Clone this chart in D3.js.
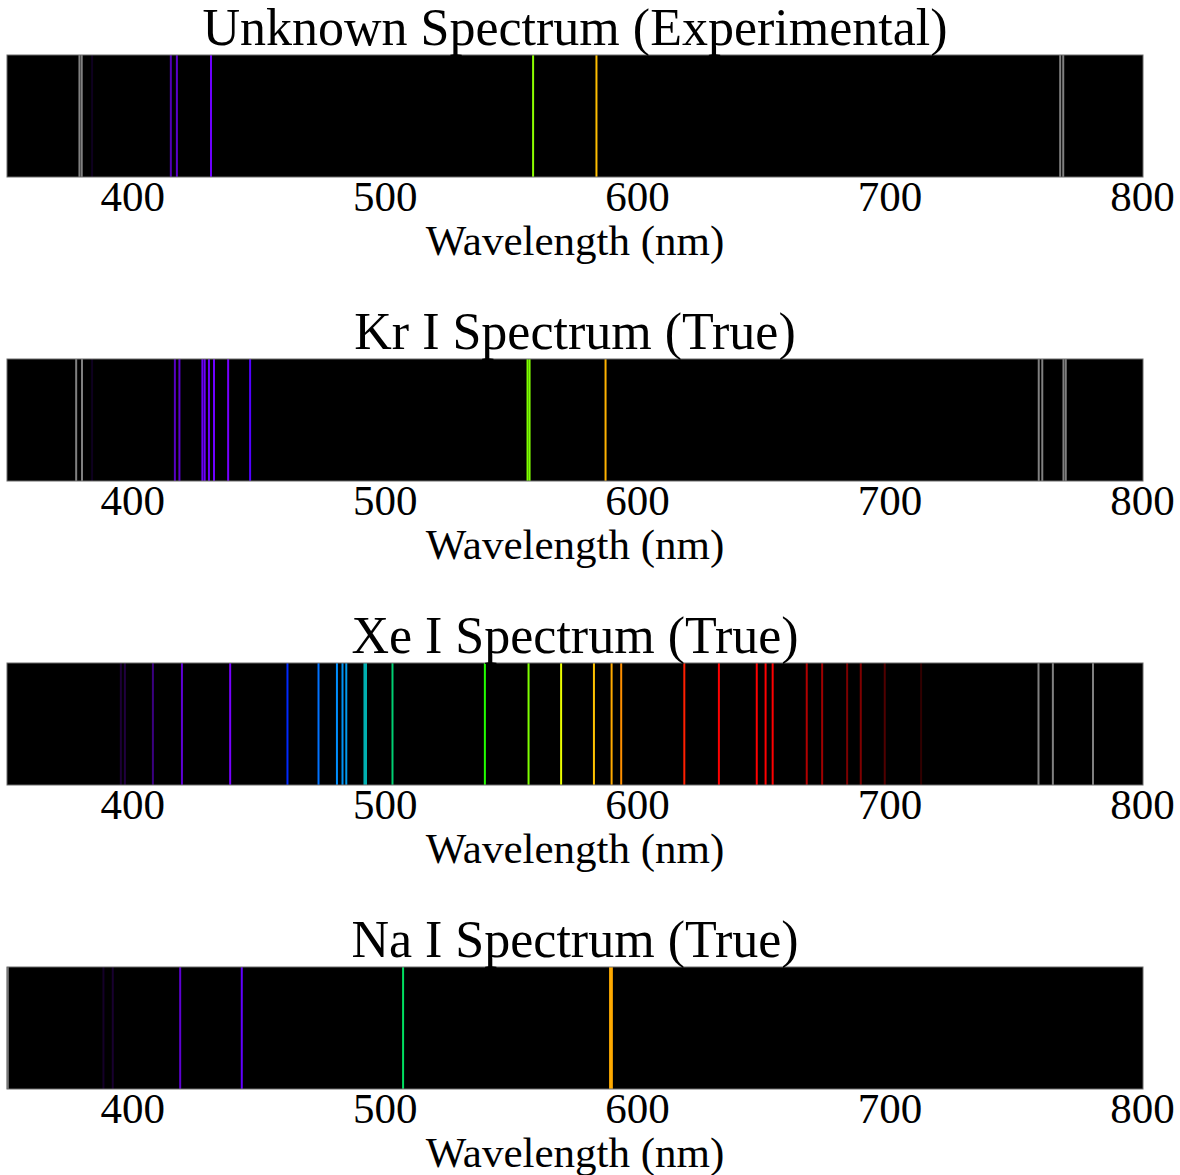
<!DOCTYPE html>
<html>
<head>
<meta charset="utf-8">
<script src="https://cdn.jsdelivr.net/npm/d3@7"></script>
<style>
  html, body { margin: 0; padding: 0; background: #ffffff; }
  svg { display: block; }
  text { font-family: "Liberation Serif", "Times New Roman", serif; fill: #000; }
</style>
</head>
<body>
<svg id="chart" width="1180" height="1175"></svg>
<script>
// Emission line wavelengths (nm) for each spectrum
const unknownLines = [378.7, 379.6, 383.7, 414.9, 417.3, 430.8, 558.4, 583.5, 767.2, 768.4];
const krLines = [377.4, 379.7, 383.7, 416.5, 418.3, 427.4, 428.3, 430.0, 432.0, 437.6, 446.3,
                 556.2, 557.0, 587.1, 758.7, 760.1, 768.5, 769.4];
const xeLines = [395.1, 396.7, 407.8, 419.3, 438.4, 461.1, 473.4, 480.7, 482.9, 484.4,
                 491.6, 492.2, 502.7, 539.3, 556.6, 569.5, 582.5, 589.5, 593.3, 618.3,
                 632.0, 647.0, 650.5, 653.3, 666.8, 672.9, 682.8, 688.2, 697.7, 712.1,
                 758.6, 764.3, 780.2];
const naLines = [350.3, 388.2, 391.9, 418.6, 443.0, 506.9, 588.9, 589.6];

const titles = ["Unknown Spectrum (Experimental)", "Kr I Spectrum (True)", "Xe I Spectrum (True)", "Na I Spectrum (True)"];
const spectra = [unknownLines, krLines, xeLines, naLines];
const tickValues = [400, 500, 600, 700, 800];
const domainNm = [350, 800];
const xLabel = "Wavelength (nm)";

// Wavelength → display colour (grey outside the visible band)
const colourStops = [
  [350, "#808080"], [379.9, "#808080"], [380, "#0a0018"], [395, "#1c0035"],
  [408, "#3a0080"], [418, "#5c00d0"], [430, "#6c00ff"], [438, "#7800ff"],
  [450, "#4000ff"], [461, "#0028ff"], [473, "#0070ff"], [481, "#0090ff"],
  [484, "#0098f0"], [492, "#00b0b0"], [503, "#00d070"], [507, "#00e060"],
  [539, "#20ff00"], [557, "#80ff00"], [570, "#f0ff00"], [583, "#ffc000"],
  [590, "#ffa800"], [593, "#ff9000"], [618, "#ff2000"], [632, "#ff0000"],
  [653, "#ff0000"], [667, "#b00000"], [673, "#a00000"], [683, "#7a0000"],
  [688, "#800000"], [698, "#500000"], [712, "#300000"], [749.9, "#100000"],
  [750, "#808080"], [800, "#808080"]
];
const colour = d3.scaleLinear()
  .domain(colourStops.map(d => d[0]))
  .range(colourStops.map(d => d[1]))
  .interpolate(d3.interpolateRgb)
  .clamp(true);

const svg = d3.select("#chart");
const plotLeft = 7, plotRight = 1143;
const panelTop0 = 55, panelStep = 304, panelHeight = 122;

const x = d3.scaleLinear().domain(domainNm).range([plotLeft, plotRight]);

spectra.forEach((lines, i) => {
  const top = panelTop0 + i * panelStep;
  const g = svg.append("g");

  g.append("rect")
    .attr("x", plotLeft).attr("y", top)
    .attr("width", plotRight - plotLeft).attr("height", panelHeight)
    .attr("fill", "#000");

  g.selectAll("line.em")
    .data(lines)
    .join("line")
    .attr("class", "em")
    .attr("x1", d => x(d)).attr("x2", d => x(d))
    .attr("y1", top).attr("y2", top + panelHeight)
    .attr("stroke", d => colour(d))
    .attr("stroke-width", 2);

  g.append("rect")
    .attr("x", plotLeft).attr("y", top)
    .attr("width", plotRight - plotLeft).attr("height", panelHeight)
    .attr("fill", "none")
    .attr("stroke", "#6a6a6a")
    .attr("stroke-width", 1);

  const axis = d3.axisBottom(x).tickValues(tickValues).tickSize(0).tickPadding(0).tickFormat(d3.format("d"));
  const ax = g.append("g")
    .attr("transform", `translate(0,${top + panelHeight})`)
    .call(axis);
  ax.select(".domain").remove();
  ax.selectAll(".tick text")
    .attr("dy", null)
    .attr("x", -1)
    .attr("y", 34)
    .style("font-family", '"Liberation Serif", "Times New Roman", serif')
    .style("font-size", "43px")
    .attr("fill", "#000");

  g.append("text")
    .attr("x", (plotLeft + plotRight) / 2)
    .attr("y", top + panelHeight + 78)
    .attr("text-anchor", "middle")
    .style("font-size", "43px")
    .text(xLabel);

  g.append("text")
    .attr("x", (plotLeft + plotRight) / 2)
    .attr("y", top - 10)
    .attr("text-anchor", "middle")
    .style("font-size", "52px")
    .text(titles[i]);
});
</script>
</body>
</html>
